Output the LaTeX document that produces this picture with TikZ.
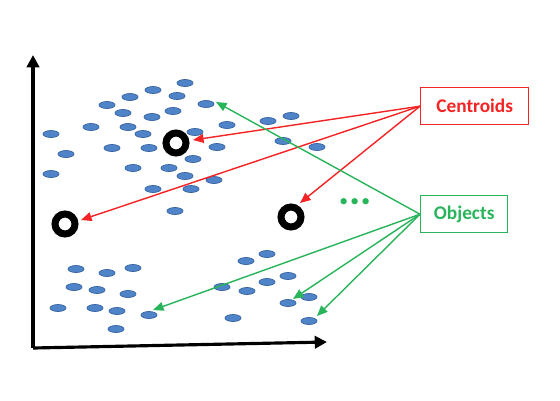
\documentclass[tikz,border=0pt]{standalone}
\usepackage{fontspec}
\setmainfont{Carlito}
\usetikzlibrary{arrows.meta,shapes.geometric}

\definecolor{dotblue}{RGB}{80,132,200}
\definecolor{dotedge}{RGB}{55,100,160}
\definecolor{cenred}{RGB}{245,35,35}
\definecolor{objgreen}{RGB}{40,180,90}

\tikzset{
    obj/.style={ellipse, fill=dotblue, draw=dotedge, line width=0.4pt,
        minimum width=0.32cm, minimum height=0.14cm, inner sep=0pt},
    centroid/.style={circle, draw=black, line width=4pt,
        minimum size=0.4cm, inner sep=0pt},
    label box/.style={draw, line width=0.8pt, font=\bfseries\fontsize{11}{13}\selectfont,
        minimum height=0.74cm, inner sep=0pt},
    axis/.style={line width=1.8pt, -{Triangle[length=7pt,width=7pt]}},
    pointer/.style={line width=0.8pt, -{Triangle[length=6pt,width=5pt]}}
}

\begin{document}
\begin{tikzpicture}[x=0.02cm, y=-0.02cm]
        \useasboundingbox (0, 0) rectangle (560, 400);

        % --- Axes ---
        \coordinate (origin) at (33, 348);
        \coordinate (ytop) at (33, 55);
        \coordinate (xend) at (327, 342);
        \draw[axis] (origin) -- (ytop);
        \draw[axis] (origin) -- (xend);

        % --- Objects (upper cluster) ---
        \foreach \x/\y [count=\i] in {185/83, 153/90, 130/97, 177/96, 107/105, 206/104,
                123/113, 152/117, 173/111, 91/127, 128/127, 227/125, 268/121, 291/116,
                51/134, 143/134, 195/132, 283/141, 317/147, 66/154, 112/148, 149/148,
                217/147, 193/159, 51/174, 133/168, 169/168, 185/176, 214/180, 153/189,
                191/189, 175/211}
            \node[obj] (u\i) at (\x, \y) {};

        % --- Objects (lower clusters) ---
        \foreach \x/\y [count=\i] in {76/269, 107/273, 133/268, 74/287, 97/290, 128/294,
                58/308, 95/308, 117/311, 149/315, 116/329, 246/261, 267/254, 222/287,
                247/291, 267/282, 288/276, 233/318, 288/303, 309/297, 309/321}
            \node[obj] (l\i) at (\x, \y) {};

        % --- Centroids ---
        \node[centroid] (c1) at (176, 143) {};
        \node[centroid] (c2) at (65, 224) {};
        \node[centroid] (c3) at (291, 217) {};

        \node[text=objgreen, font=\bfseries\fontsize{24}{24}\selectfont, inner sep=0pt]
            (more) at (355, 202) {...};

        % --- Labels ---
        \node[label box, draw=cenred, text=cenred, minimum width=2.16cm,
            anchor=north west] (cen) at (420, 87) {Centroids};
        \node[label box, draw=objgreen, text=objgreen, minimum width=1.74cm,
            anchor=north west] (objs) at (420, 195) {Objects};

        % --- Pointers ---
        \coordinate (tc1) at (193, 140);
        \coordinate (tc2) at (81, 220);
        \coordinate (tc3) at (300, 203);
        \draw[pointer, cenred] (cen.west) -- (tc1);
        \draw[pointer, cenred] (cen.west) -- (tc2);
        \draw[pointer, cenred] (cen.west) -- (tc3);

        \coordinate (to1) at (216, 102);
        \coordinate (to2) at (153, 310);
        \coordinate (to3) at (293, 299);
        \coordinate (to4) at (317, 316);
        \draw[pointer, objgreen] (objs.west) -- (to1);
        \draw[pointer, objgreen] (objs.west) -- (to2);
        \draw[pointer, objgreen] (objs.west) -- (to3);
        \draw[pointer, objgreen] (objs.west) -- (to4);

    \end{tikzpicture}
\end{document}
